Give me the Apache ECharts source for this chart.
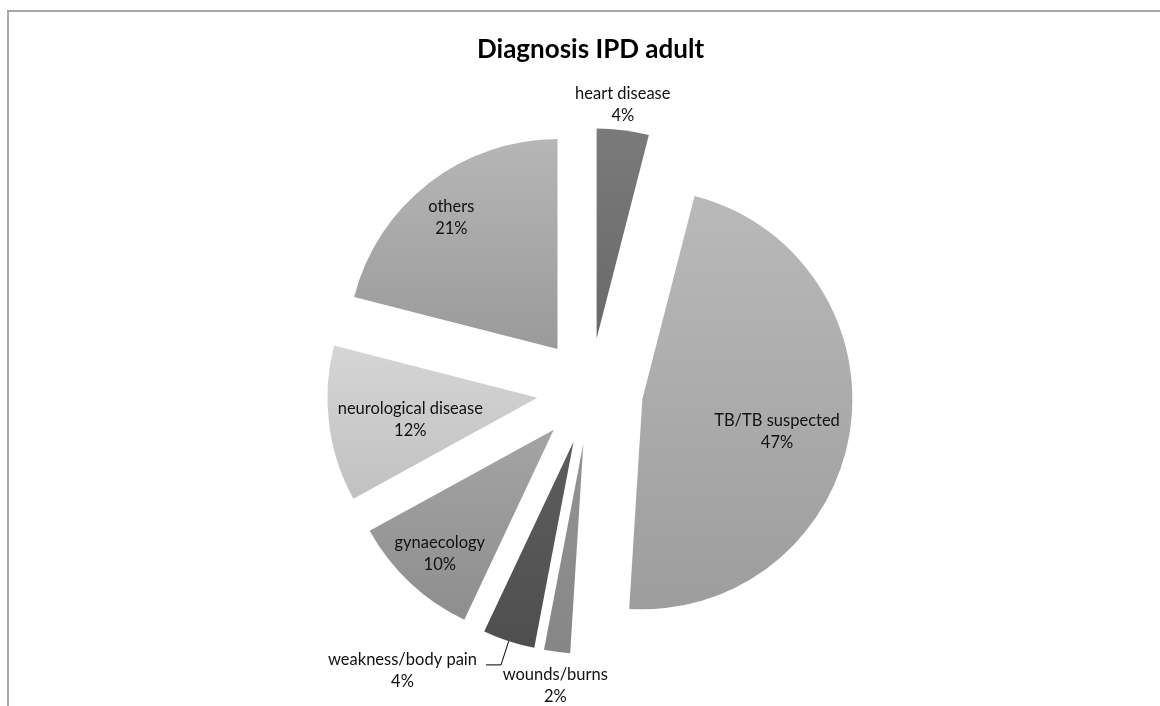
<!DOCTYPE html>
<html>
<head>
<meta charset="utf-8">
<title>Diagnosis IPD adult</title>
<script src="https://cdn.jsdelivr.net/npm/echarts@6/dist/echarts.min.js"></script>
<style>
  html, body { margin: 0; padding: 0; background: #fff; }
  #chart { width: 1160px; height: 706px; }
</style>
</head>
<body>
<div id="chart"></div>
<script>
// data, clockwise from 12 o'clock
const categories = ['heart disease', 'TB/TB suspected', 'wounds/burns', 'weakness/body pain', 'gynaecology', 'neurological disease', 'others'];
const values = [4, 47, 2, 4, 10, 12, 21];

// top / bottom grey of each slice
const shades = [
  ['#7a7a7a', '#696969'],
  ['#b9b9b9', '#9d9d9d'],
  ['#949494', '#868686'],
  ['#5d5d5d', '#4f4f4f'],
  ['#a4a4a4', '#8e8e8e'],
  ['#d5d5d5', '#c1c1c1'],
  ['#b6b6b6', '#9a9a9a']
];
const labelPlace = ['outside', 'inside', 'outside', 'outside', 'inside', 'inside', 'inside'];
// nudges from the default label spot
const labelShift = [[-71, -1], [28, 15], [74, 9], [-4, 6], [-40, 45], [-20, 8], [-40, -46]];

const pieCenter = [590, 391];
const explode = 53;
const total = values.reduce((a, b) => a + b, 0);

const chart = echarts.init(document.getElementById('chart'));

// one series per slice so each slice can be pulled out along its own mid angle
let before = 0;
const series = categories.map((name, i) => {
  const mid = (before + values[i] / 2) / total * 2 * Math.PI;
  before += values[i];
  const c = [pieCenter[0] + explode * Math.sin(mid), pieCenter[1] - explode * Math.cos(mid)];
  return {
    type: 'pie',
    center: c,
    radius: 210,
    startAngle: 90,
    avoidLabelOverlap: false,
    percentPrecision: 0,
    animation: false,
    silent: true,
    emphasis: { disabled: true },
    label: {
      formatter: '{b}\n{d}%',
      fontFamily: 'Lato',
      fontSize: 16.5,
      lineHeight: 22,
      color: '#111'
    },
    labelLine: { lineStyle: { color: '#000', width: 1 } },
    labelLayout: function (p) {
      if (p.dataIndex !== i) return {};
      const s = labelShift[i];
      return {
        x: p.labelRect.x + p.labelRect.width / 2 + s[0],
        y: p.labelRect.y + p.labelRect.height / 2 + s[1],
        align: 'center',
        verticalAlign: 'middle',
        labelLinePoints: p.labelLinePoints
      };
    },
    data: categories.map((n, j) => {
      if (j !== i) {
        return {
          name: n, value: values[j],
          itemStyle: { color: 'rgba(0,0,0,0)' },
          label: { show: false },
          labelLine: { show: false }
        };
      }
      return {
        name: n,
        value: values[j],
        itemStyle: {
          color: new echarts.graphic.LinearGradient(0, 0, 0, 1, [
            { offset: 0, color: shades[j][0] },
            { offset: 1, color: shades[j][1] }
          ])
        },
        label: { position: labelPlace[j] },
        labelLine: { show: j === 3, length: 25, length2: 15 }
      };
    })
  };
});

const option = {
  backgroundColor: '#fff',
  title: {
    text: 'Diagnosis IPD adult',
    left: 472,
    top: 32,
    textStyle: { fontFamily: 'Lato', fontSize: 26, fontWeight: 'bold', color: '#000' }
  },
  graphic: [{
    type: 'rect',
    shape: { x: 8, y: 11, width: 1200, height: 800 },
    style: { fill: 'none', stroke: '#a8a8a8', lineWidth: 2 },
    silent: true
  }],
  series: series
};

chart.setOption(option);
</script>
</body>
</html>
